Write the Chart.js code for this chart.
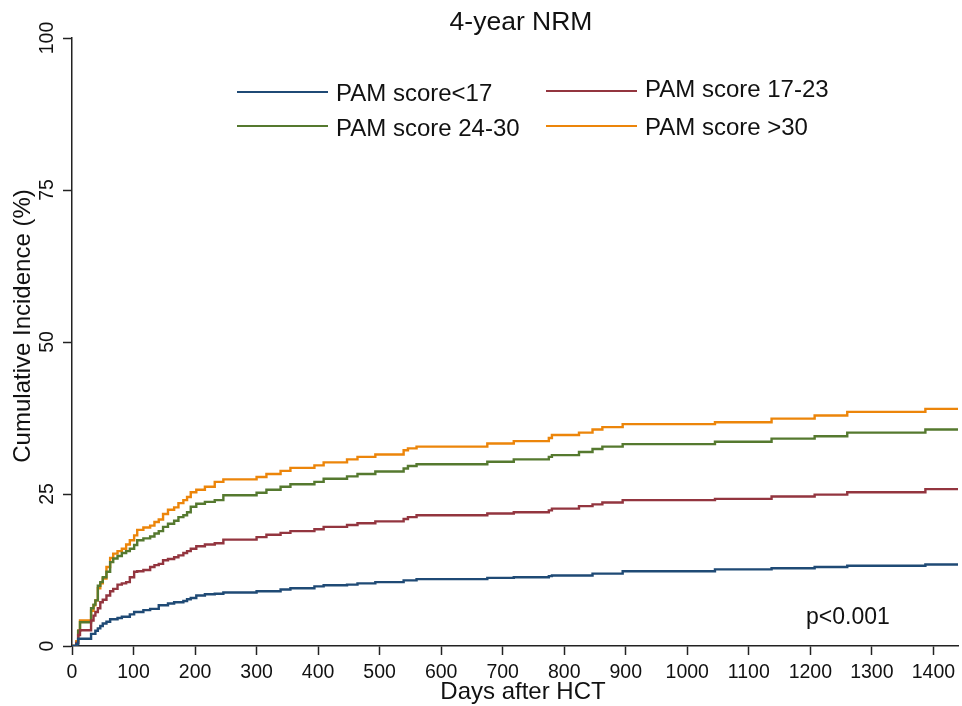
<!DOCTYPE html>
<html>
<head>
<meta charset="utf-8">
<script src="https://cdn.jsdelivr.net/npm/chart.js@4"></script>
<style>
  html, body { margin: 0; padding: 0; background: #ffffff; }
  #c { display: block; }
</style>
</head>
<body>
<canvas id="c" width="962" height="706"></canvas>
<script>
// ---- data ----
const chartTitle = "4-year NRM";
const xAxisTitle = "Days after HCT";
const yAxisTitle = "Cumulative Incidence (%)";
const pValueText = "p<0.001";
const seriesNames = ["PAM score<17", "PAM score 17-23", "PAM score 24-30", "PAM score >30"];
const seriesColors = ["#1f4a75", "#93353f", "#55792f", "#ec850a"];

const days = [0, 7, 10, 13, 31, 35, 38, 42, 46, 50, 56, 62, 67, 74, 81, 88, 94, 101, 106, 116,
  127, 134, 141, 148, 156, 166, 173, 181, 187, 193, 202, 216, 232, 246, 300, 316, 339, 355, 394, 409,
  447, 464, 493, 539, 546, 560, 675, 718, 775, 780, 824, 846, 862, 895, 1045, 1137, 1207, 1260, 1387, 1440];

const pamBelow17 = [0, 0.3, 1.2, 1.2, 2.0, 2.0, 2.5, 2.9, 3.3, 3.7, 4.0, 4.4, 4.4, 4.6, 4.8, 4.8, 5.2, 5.6, 5.6, 5.9,
  6.1, 6.1, 6.7, 6.7, 7.0, 7.2, 7.2, 7.4, 7.7, 7.9, 8.3, 8.5, 8.6, 8.8, 9.0, 9.0, 9.3, 9.5, 9.8, 10.0,
  10.1, 10.3, 10.5, 10.8, 10.8, 11.0, 11.2, 11.3, 11.5, 11.6, 11.6, 11.9, 11.9, 12.3, 12.6, 12.8, 13.0, 13.2, 13.4, 13.4];

const pam17to23 = [0, 0.5, 1.8, 2.6, 4.2, 5.0, 5.6, 6.2, 7.2, 7.6, 8.3, 9.0, 9.4, 10.1, 10.3, 10.5, 11.3, 12.2, 12.3, 12.5,
  13.0, 13.3, 13.5, 14.1, 14.3, 14.6, 14.9, 15.3, 15.6, 16.0, 16.4, 16.7, 16.9, 17.5, 17.9, 18.3, 18.6, 18.9, 19.2, 19.6,
  19.9, 20.2, 20.5, 20.9, 21.2, 21.5, 21.8, 22.0, 22.3, 22.6, 23.0, 23.3, 23.6, 24.0, 24.2, 24.6, 24.9, 25.3, 25.8, 25.8];

const pam24to30 = [0, 0.5, 2.5, 3.9, 6.2, 6.8, 7.5, 9.9, 10.5, 11.3, 12.2, 13.8, 14.4, 14.8, 15.3, 15.6, 16.0, 16.6, 17.4, 17.7,
  18.0, 18.5, 18.9, 19.6, 20.1, 20.6, 21.2, 21.5, 22.0, 22.9, 23.4, 23.7, 24.0, 24.8, 25.2, 25.7, 26.2, 26.6, 27.0, 27.5,
  27.9, 28.3, 28.7, 29.2, 29.6, 29.9, 30.3, 30.7, 31.1, 31.4, 31.9, 32.4, 32.8, 33.2, 33.6, 34.1, 34.5, 35.1, 35.6, 35.6];

const pamAbove30 = [0, 0.8, 2.5, 4.2, 5.8, 6.7, 7.5, 9.5, 10.3, 11.1, 13.0, 14.5, 15.2, 15.6, 16.0, 16.7, 17.4, 18.2, 19.1, 19.5,
  19.8, 20.4, 20.8, 21.7, 22.4, 22.8, 23.5, 24.0, 24.5, 25.3, 25.7, 26.2, 27.0, 27.4, 27.8, 28.3, 28.8, 29.3, 29.7, 30.2,
  30.7, 31.1, 31.5, 32.2, 32.5, 32.8, 33.3, 33.7, 34.2, 34.7, 35.1, 35.6, 36.0, 36.5, 36.8, 37.4, 37.9, 38.5, 39.0, 39.0];

const yTickValues = [0, 25, 50, 75, 100];
const xTickStep = 100;
const xMax = 1440;

// ---- build chart ----
const seriesValues = [pamBelow17, pam17to23, pam24to30, pamAbove30];
const datasets = seriesValues.map((vals, i) => ({
  label: seriesNames[i],
  data: days.map((d, k) => ({ x: d, y: vals[k] })),
  borderColor: seriesColors[i],
  backgroundColor: seriesColors[i],
  borderWidth: 2.4,
  pointRadius: 0,
  stepped: true,
  fill: false,
  tension: 0
}));
const FONT = "'Liberation Sans', Arial, sans-serif";
const TXT = "#111111";

const textPlugin = {
  id: 'textPlugin',
  afterDraw(chart) {
    const ctx = chart.ctx;
    ctx.save();
    ctx.fillStyle = TXT;
    // title
    ctx.font = "26.5px " + FONT;
    ctx.textAlign = "center";
    ctx.textBaseline = "alphabetic";
    ctx.fillText(chartTitle, 521, 30);
    // x axis title
    ctx.font = "24px " + FONT;
    ctx.fillText(xAxisTitle, 523, 699);
    // y axis title
    ctx.save();
    ctx.translate(30, 326);
    ctx.rotate(-Math.PI / 2);
    ctx.fillText(yAxisTitle, 0, 0);
    ctx.restore();
    // legend
    const leg = [
      { x0: 237, x1: 328, ly: 92, tx: 336, ty: 101 },
      { x0: 546, x1: 637, ly: 91, tx: 645, ty: 97 },
      { x0: 237, x1: 328, ly: 126, tx: 336, ty: 136 },
      { x0: 546, x1: 637, ly: 126, tx: 645, ty: 135 }
    ];
    chart.data.datasets.forEach((ds, i) => {
      const L = leg[i];
      ctx.strokeStyle = ds.borderColor;
      ctx.lineWidth = 2;
      ctx.beginPath();
      ctx.moveTo(L.x0, L.ly);
      ctx.lineTo(L.x1, L.ly);
      ctx.stroke();
      ctx.fillStyle = TXT;
      ctx.textAlign = "left";
      ctx.font = "24px " + FONT;
      ctx.fillText(ds.label, L.tx, L.ty);
    });
    // p-value
    ctx.font = "23px " + FONT;
    ctx.textAlign = "left";
    ctx.fillText(pValueText, 806, 624);
    ctx.restore();
  }
};

new Chart(document.getElementById('c'), {
  type: 'line',
  data: { datasets },
  options: {
    responsive: false,
    animation: false,
    devicePixelRatio: 1,
    layout: { padding: { top: 38, right: 4, bottom: 0, left: 0 } },
    plugins: {
      legend: { display: false },
      title: { display: false },
      tooltip: { enabled: false }
    },
    scales: {
      x: {
        type: 'linear',
        min: 0,
        max: xMax,
        afterFit: (s) => { s.height = 60; s.paddingLeft = 0; s.paddingRight = 0; },
        grid: { display: true, drawOnChartArea: false, drawTicks: true, tickLength: 9, tickWidth: 1.5, tickColor: '#222' },
        border: { display: true, color: '#222', width: 1.5 },
        ticks: {
          stepSize: xTickStep,
          includeBounds: false,
          maxRotation: 0,
          autoSkip: false,
          padding: 6,
          color: TXT,
          font: { family: FONT, size: 19.5 },
          callback: (v) => String(v)
        },
        title: { display: false }
      },
      y: {
        type: 'linear',
        min: 0,
        max: 100,
        afterFit: (s) => { s.width = 72; s.paddingTop = 0; s.paddingBottom = 0; },
        afterBuildTicks: (s) => { s.ticks = yTickValues.map(v => ({ value: v })); },
        grid: { display: true, drawOnChartArea: false, drawTicks: true, tickLength: 9, tickWidth: 1.5, tickColor: '#222' },
        border: { display: true, color: '#222', width: 1.5 },
        ticks: {
          minRotation: 90,
          maxRotation: 90,
          crossAlign: 'center',
          padding: -1,
          color: TXT,
          font: { family: FONT, size: 19.5 },
          callback: (v) => String(v)
        },
        title: { display: false }
      }
    }
  },
  plugins: [textPlugin]
});
</script>
</body>
</html>
